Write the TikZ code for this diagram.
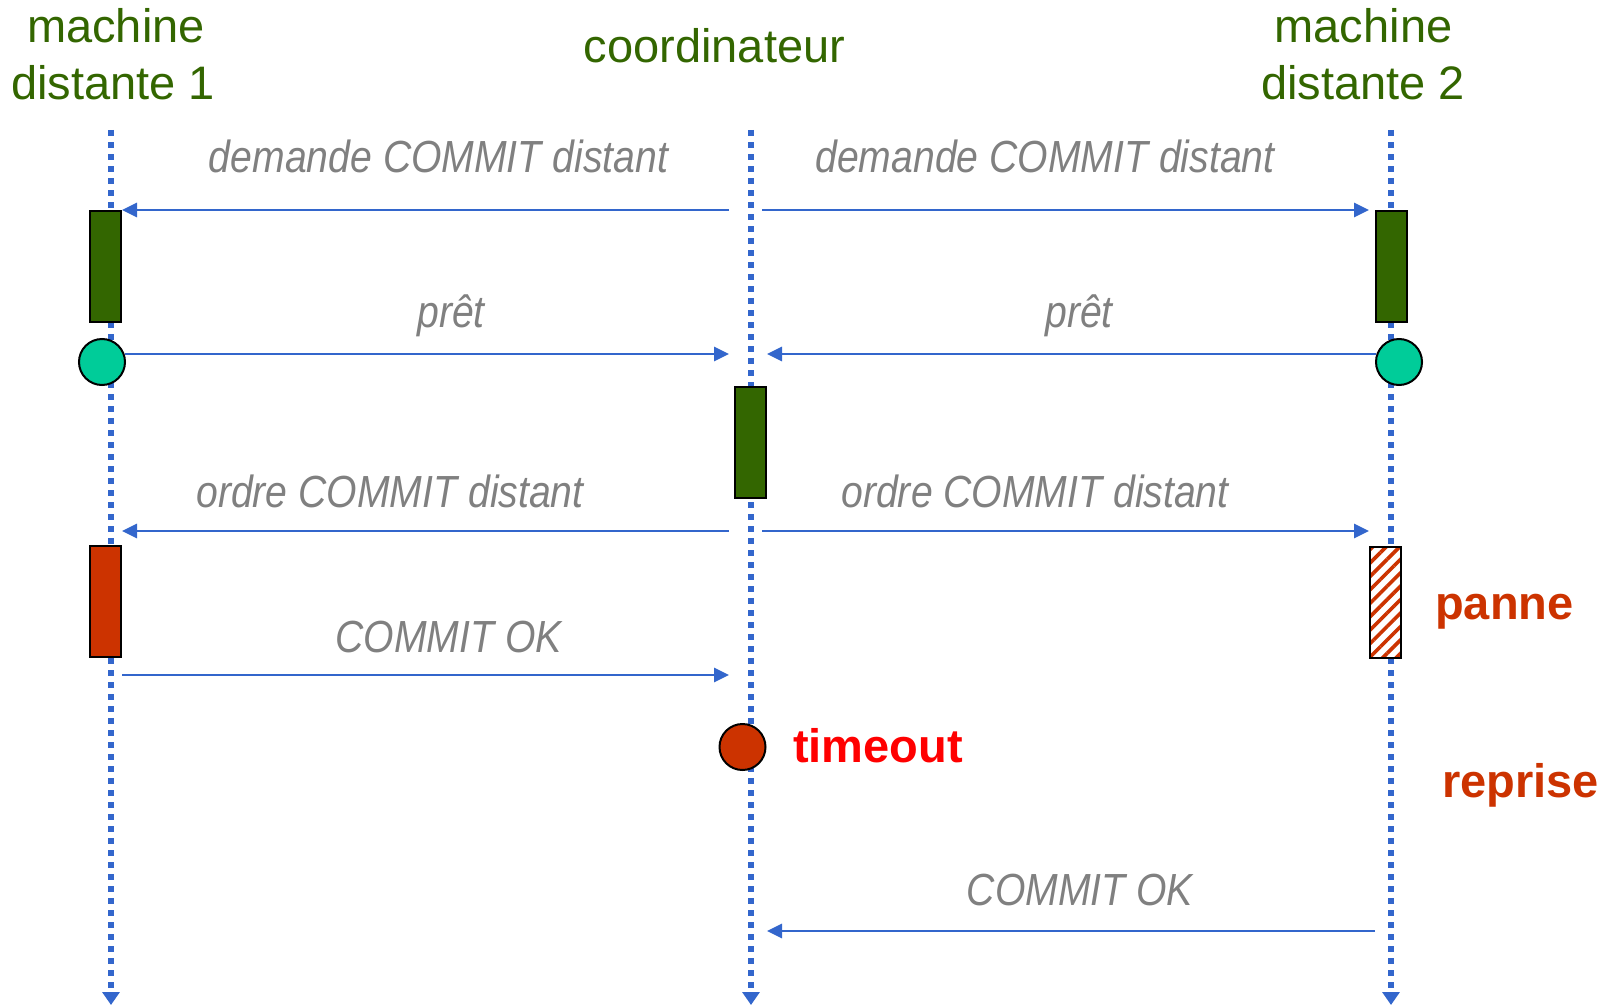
\documentclass[tikz,border=0pt]{standalone}
\usepackage{fontspec}
\setmainfont{Liberation Sans}
\newfontfamily\msgfont[FakeStretch=0.87]{Liberation Sans}
\usetikzlibrary{arrows.meta,patterns.meta}
\definecolor{lifeblue}{HTML}{3366CC}
\definecolor{titlegreen}{HTML}{336600}
\definecolor{boxgreen}{HTML}{336600}
\definecolor{rust}{HTML}{CC3300}
\definecolor{readyteal}{HTML}{00CC99}
\definecolor{msggray}{HTML}{808080}
\begin{document}
\begin{tikzpicture}[x=1pt,y=-1pt,
  lifeline/.style={lifeblue, line width=5.5pt, dash pattern=on 5.5pt off 6.5pt,
    -{Triangle[length=13pt,width=17pt]}},
  msg/.style={lifeblue, line width=2.8pt, -{Triangle[length=15pt,width=14pt]}},
  msgtext/.style={anchor=base, inner sep=0, text=msggray,
    font=\msgfont\itshape\fontsize{45}{54}\selectfont},
  title/.style={anchor=base, inner sep=0, text=titlegreen,
    font=\fontsize{47}{56}\selectfont},
  alert/.style={anchor=base west, inner sep=0,
    font=\bfseries\fontsize{47}{56}\selectfont},
  act/.style={draw=black, line width=2pt, minimum width=31pt,
    minimum height=111pt, inner sep=0},
  state/.style={circle, draw=black, line width=2pt, minimum size=46pt, inner sep=0},
]
\useasboundingbox (0,0) rectangle (1613,1006);

% participants
\node[title] (t1a) at (116,43) {machine};
\node[title] (t1b) at (113,100) {distante 1};
\node[title] (t2)  at (714.5,63) {coordinateur};
\node[title] (t3a) at (1363.5,43) {machine};
\node[title] (t3b) at (1363,100) {distante 2};

% lifelines
\coordinate (top1) at (111,130);  \coordinate (bot1) at (111,1005);
\coordinate (top2) at (751,130);  \coordinate (bot2) at (751,1005);
\coordinate (top3) at (1391,130); \coordinate (bot3) at (1391,1005);
\draw[lifeline] (top1) -- (bot1);
\draw[lifeline] (top2) -- (bot2);
\draw[lifeline] (top3) -- (bot3);

% activity boxes and states
\node[act, fill=boxgreen] (b1) at (105.5,266.5) {};
\node[act, fill=boxgreen] (b2) at (1391,266.5) {};
\node[act, fill=boxgreen] (b3) at (750.5,442.5) {};
\node[act, fill=rust]     (b4) at (105.5,601.5) {};
\node[act, preaction={fill=white},
  pattern={Lines[angle=45,distance=9.5pt,line width=3.6pt]},
  pattern color=rust]     (b5) at (1385.5,602) {};
\node[state, fill=readyteal] (c1) at (102,362) {};
\node[state, fill=readyteal] (c2) at (1399,362) {};
\node[state, fill=rust]      (c3) at (742.5,747) {};

% message end points
\coordinate (m1s) at (729,210);  \coordinate (m1e) at (122,210);
\coordinate (m2s) at (762,210);  \coordinate (m2e) at (1369,210);
\coordinate (m3s) at (125,354);  \coordinate (m3e) at (729,354);
\coordinate (m4s) at (1376,354); \coordinate (m4e) at (767,354);
\coordinate (m5s) at (729,531);  \coordinate (m5e) at (122,531);
\coordinate (m6s) at (762,531);  \coordinate (m6e) at (1369,531);
\coordinate (m7s) at (122,675);  \coordinate (m7e) at (729,675);
\coordinate (m8s) at (1375,931); \coordinate (m8e) at (767,931);

\draw[msg] (m1s) -- (m1e);
\draw[msg] (m2s) -- (m2e);
\draw[msg] (m3s) -- (m3e);
\draw[msg] (m4s) -- (m4e);
\draw[msg] (m5s) -- (m5e);
\draw[msg] (m6s) -- (m6e);
\draw[msg] (m7s) -- (m7e);
\draw[msg] (m8s) -- (m8e);

% message labels
\node[msgtext] (l1) at (438.5,172) {demande COMMIT distant};
\node[msgtext] (l2) at (1045,172) {demande COMMIT distant};
\node[msgtext] (l3) at (451,327) {prêt};
\node[msgtext] (l4) at (1079,327) {prêt};
\node[msgtext] (l5) at (390,507) {ordre COMMIT distant};
\node[msgtext] (l6) at (1035,507) {ordre COMMIT distant};
\node[msgtext] (l7) at (448.5,652) {COMMIT OK};
\node[msgtext] (l8) at (1080,905) {COMMIT OK};

% events
\node[alert, text=rust] (panne) at (1435,619) {panne};
\node[alert, text=red]  (timeout) at (793,762) {timeout};
\node[alert, text=rust] (reprise) at (1442,797) {reprise};
\end{tikzpicture}
\end{document}
